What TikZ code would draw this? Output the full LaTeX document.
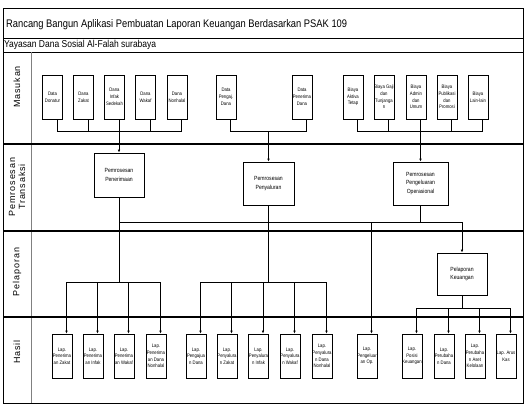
\documentclass[tikz,border=0pt]{standalone}
\usepackage{fontspec}
\setmainfont{Liberation Sans}[FakeStretch=0.85]
\newfontfamily\lajurfont{Liberation Sans}[LetterSpace=10]
\usetikzlibrary{arrows.meta}

\tikzset{
  kecil/.style={draw,line width=0.8pt,minimum width=20pt,minimum height=44pt,inner sep=0pt,align=center,font=\fontsize{5}{6.7}\selectfont},
  proses/.style={draw,line width=0.8pt,minimum height=43pt,inner sep=1pt,align=center,font=\fontsize{6}{8.3}\selectfont},
  garis/.style={line width=0.7pt},
  panah/.style={line width=0.7pt,-{Latex[length=3pt,width=2.6pt]}},
  lajur/.style={line width=1.1pt},
  label lajur/.style={rotate=90,align=center,font=\lajurfont\fontsize{9}{10}\selectfont},
}

\begin{document}
\begin{tikzpicture}[x=1pt,y=-1pt]
\useasboundingbox (0,0) rectangle (526,404);
\draw[line width=0.8pt] (3,8) rectangle (523,403);
\draw[line width=0.8pt] (3,38)--(523,38);
\draw[line width=0.8pt] (3,52)--(523,52);
\draw[gray,line width=0.8pt] (31,52)--(31,403);
\draw[lajur] (3,144)--(523,144);
\draw[lajur] (3,231)--(523,231);
\draw[lajur] (3,317)--(523,317);
\node[anchor=west,inner sep=0pt,font=\fontsize{11}{13}\selectfont] (judul) at (6,25) {Rancang Bangun Aplikasi Pembuatan Laporan Keuangan Berdasarkan PSAK 109};
\node[anchor=west,inner sep=0pt,font=\fontsize{10}{12}\selectfont] (yayasan) at (4,45) {Yayasan Dana Sosial Al-Falah surabaya};

\node[label lajur] (lmasuk) at (17,87) {Masukan};
\node[label lajur] (lproses) at (17,187) {Pemrosesan\\Transaksi};
\node[label lajur] (llapor) at (17,272) {Pelaporan};
\node[label lajur] (lhasil) at (17,352) {Hasil};

\node[kecil] (dd) at (52.5,97) {Data\\Donatur};
\node[kecil] (dz) at (83.5,97) {Dana\\Zakat};
\node[kecil] (di) at (114.5,97) {Dana\\Infak\\Sedekah};
\node[kecil] (dw) at (145.5,97) {Dana\\Wakaf};
\node[kecil] (dn) at (177,97) {Dana\\Nonhalal};
\node[kecil] (dpd) at (226,97) {Data\\Pengaj.\\Dana};
\node[kecil] (dpn) at (302,97) {Data\\Penerima\\Dana};
\node[kecil] (ba) at (353,97) {Biaya\\Aktiva\\Tetap};
\node[kecil] (bg) at (384,97) {Biaya Gaji\\dan\\Tunjanga\\n};
\node[kecil] (bu) at (416,97) {Biaya\\Admin\\dan\\Umum};
\node[kecil] (bp) at (447,97) {Biaya\\Publikasi\\dan\\Promosi};
\node[kecil] (bl) at (478,97) {Biaya\\Lain-lain};

\node[proses,minimum width=50pt,minimum height=44pt] (pp) at (119,175) {Pemrosesan\\Penerimaan};
\node[proses,minimum width=51pt] (py) at (268.5,183.5) {Pemrosesan\\Penyaluran};
\node[proses,minimum width=55pt] (po) at (420.5,183.5) {Pemrosesan\\Pengeluaran\\Operasional};
\node[proses,minimum width=50pt,minimum height=42pt] (pk) at (462,274) {Pelaporan\\Keuangan};

\node[kecil] (lpz) at (62,356) {Lap.\\Penerima\\an Zakat};
\node[kecil] (lpi) at (93,356) {Lap.\\Penerima\\an Infak};
\node[kecil] (lpw) at (124,356) {Lap.\\Penerima\\an Wakaf};
\node[kecil] (lpn) at (156,356) {Lap.\\Penerima\\an Dana\\Nonhalal};
\node[kecil] (lpd) at (196,356) {Lap.\\Pengajua\\n Dana};
\node[kecil] (lyz) at (227,356) {Lap.\\Penyalura\\n Zakat};
\node[kecil] (lyi) at (258.5,356) {Lap.\\Penyalura\\n Infak};
\node[kecil] (lyw) at (290,356) {Lap.\\Penyalura\\n Wakaf};
\node[kecil] (lyn) at (322,356) {Lap.\\Penyalura\\n Dana\\Nonhalal};
\node[kecil] (lpo) at (367,356) {Lap.\\Pengeluar\\an Op.};
\node[kecil] (lk) at (412,356) {Lap.\\Posisi\\Keuangan};
\node[kecil] (lpb) at (444,356) {Lap.\\Perubaha\\n Dana};
\node[kecil] (lpa) at (475,356) {Lap.\\Perubaha\\n Aset\\Kelolaan};
\node[kecil] (lak) at (506,356) {Lap. Arus\\Kas};

\coordinate (atas) at (0,131);
\coordinate (tengah) at (0,222);
\coordinate (bawah) at (0,282);
\coordinate (akhir) at (0,308);

\draw[garis] ([xshift=4.5pt]dd.south) |- ([xshift=4.5pt]dn.south |- atas) -- ([xshift=4.5pt]dn.south);
\foreach \n in {dz,di,dw} \draw[garis] ([xshift=4.5pt]\n.south) -- ([xshift=4.5pt]\n.south |- atas);
\draw[panah] (pp.north |- atas) -- (pp.north);
\draw[garis] ([xshift=4.5pt]dpd.south) |- ([xshift=4.5pt]dpn.south |- atas) -- ([xshift=4.5pt]dpn.south);
\draw[panah] (py.north |- atas) -- (py.north);
\draw[garis] ([xshift=4.5pt]ba.south) |- ([xshift=4.5pt]bl.south |- atas) -- ([xshift=4.5pt]bl.south);
\foreach \n in {bg,bu,bp} \draw[garis] ([xshift=4.5pt]\n.south) -- ([xshift=4.5pt]\n.south |- atas);
\draw[panah] (po.north |- atas) -- (po.north);

\draw[garis] (pp.south) -- (pp.south |- bawah);
\draw[panah] (pp.south |- tengah) -| (pk.north);
\draw[line width=1pt] (py.south) -- (py.south |- bawah);
\draw[garis] (po.south) -- (po.south |- tengah);
\draw[panah] ([xshift=4.5pt]lpo.north |- tengah) -- ([xshift=4.5pt]lpo.north);

\draw[garis] ([xshift=4.5pt]lpz.north |- bawah) -- ([xshift=4.5pt]lpn.north |- bawah);
\foreach \n in {lpz,lpi,lpw,lpn} \draw[panah] ([xshift=4.5pt]\n.north |- bawah) -- ([xshift=4.5pt]\n.north);
\draw[garis] ([xshift=4.5pt]lpd.north |- bawah) -- ([xshift=4.5pt]lyn.north |- bawah);
\foreach \n in {lpd,lyz,lyi,lyw,lyn} \draw[panah] ([xshift=4.5pt]\n.north |- bawah) -- ([xshift=4.5pt]\n.north);
\draw[garis] (pk.south) -- (pk.south |- akhir);
\draw[garis] ([xshift=4.5pt]lk.north |- akhir) -- ([xshift=4.5pt]lak.north |- akhir);
\foreach \n in {lk,lpb,lpa,lak} \draw[panah] ([xshift=4.5pt]\n.north |- akhir) -- ([xshift=4.5pt]\n.north);
\end{tikzpicture}
\end{document}
